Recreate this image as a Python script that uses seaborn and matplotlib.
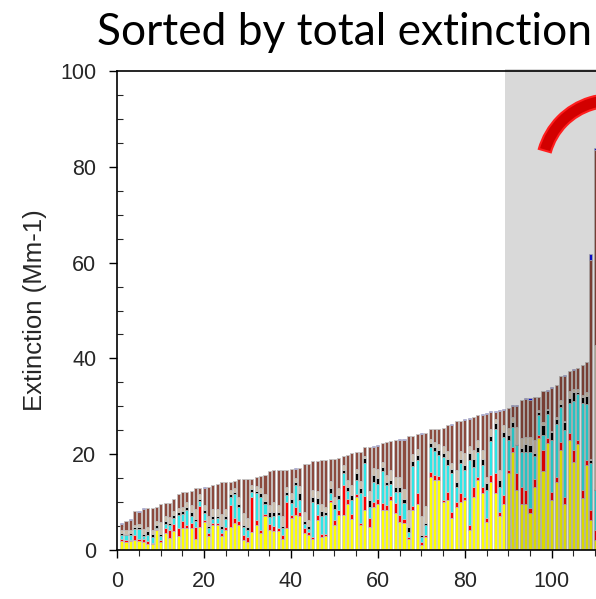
import numpy as np
import pandas as pd
import matplotlib
matplotlib.use("Agg")
import matplotlib.pyplot as plt
from matplotlib.patches import Rectangle, Wedge
from matplotlib.ticker import MultipleLocator
import seaborn as sns

# Sample index (samples sorted by total extinction)
sample = list(range(1, 111))

# Extinction contributions per species (Mm-1)
sulfate = [1.9, 1.7, 1.9, 2.0, 1.9, 1.7, 1.3, 1.2, 4.2, 1.7,
           3.5, 2.5, 4.0, 3.0, 4.6, 4.6, 4.5, 2.4, 4.7, 5.9,
           2.9, 5.2, 5.2, 2.9, 4.2, 4.9, 5.6, 5.2, 2.1, 1.7,
           3.8, 5.2, 3.5, 7.0, 4.2, 4.0, 4.0, 2.4, 4.5, 6.6,
           7.3, 7.0, 3.5, 3.1, 2.4, 6.3, 2.8, 2.9, 10.1, 5.2,
           7.3, 7.3, 9.7, 6.5, 11.1, 5.2, 8.4, 4.9, 9.0, 9.7,
           8.4, 8.4, 10.4, 7.7, 5.9, 5.6, 2.4, 8.4, 9.7, 1.0,
           2.8, 15.3, 14.6, 14.6, 10.1, 10.4, 6.6, 9.0, 10.1, 10.4,
           4.2, 11.1, 14.6, 11.8, 5.9, 14.3, 11.8, 7.0, 9.7, 16.0,
           20.5, 12.5, 9.7, 9.7, 7.7, 13.2, 23.3, 16.4, 22.3, 10.4,
           14.3, 20.9, 9.7, 23.0, 18.4, 22.1, 10.8, 17.7, 6.3, 2.1]
nitrate = [0.3, 0.35, 0.2, 1.1, 0.5, 0.5, 0.6, 0.3, 0.2, 0.4,
           1.0, 1.7, 1.5, 1.6, 1.5, 0.7, 1.2, 2.4, 4.5, 0.4,
           0.6, 0.5, 0.4, 0.6, 0.5, 4.5, 1.0, 0.8, 1.0, 1.0,
           7.3, 1.0, 0.6, 0.5, 1.2, 1.0, 0.6, 0.7, 5.5, 0.7,
           1.7, 1.0, 1.0, 0.7, 0.4, 1.0, 0.5, 0.5, 0.4, 1.0,
           1.0, 6.3, 1.0, 1.0, 0.5, 0.4, 2.8, 1.7, 1.0, 1.0,
           1.4, 1.0, 0.8, 2.1, 1.4, 0.8, 0.4, 0.7, 2.1, 0.7,
           0.4, 1.0, 1.0, 0.8, 0.4, 1.7, 1.4, 1.0, 1.7, 0.7,
           1.0, 2.1, 0.7, 1.4, 0.7, 1.4, 4.2, 1.0, 1.7, 0.7,
           1.0, 3.5, 3.5, 2.8, 1.0, 1.7, 0.7, 4.5, 1.0, 1.7,
           1.0, 1.7, 1.4, 1.4, 2.4, 0.8, 1.7, 1.0, 2.1, 2.1]
organic = [1.0, 1.0, 1.0, 1.2, 1.9, 0.7, 1.3, 1.3, 0.2, 0.9,
           1.0, 1.0, 1.2, 2.7, 1.4, 3.0, 1.5, 1.2, 1.0, 1.4,
           1.0, 0.8, 1.0, 0.9, 1.8, 1.7, 5.0, 3.0, 1.7, 1.5,
           1.0, 5.6, 7.0, 2.0, 1.5, 2.0, 2.7, 1.4, 1.5, 2.5,
           4.5, 2.4, 1.0, 0.5, 7.3, 2.4, 3.8, 4.0, 1.5, 2.4,
           2.3, 2.4, 1.7, 3.0, 3.0, 6.3, 7.0, 2.4, 4.2, 3.1,
           6.6, 4.2, 2.5, 2.4, 4.9, 3.5, 1.0, 8.4, 7.0, 1.0,
           2.0, 5.2, 5.0, 4.5, 9.0, 5.6, 8.0, 3.1, 6.3, 5.6,
           13.6, 4.2, 5.2, 4.5, 5.9, 7.0, 9.2, 5.2, 12.2, 6.3,
           4.2, 5.9, 7.3, 8.0, 11.8, 4.7, 4.2, 3.1, 5.1, 10.8,
           11.1, 7.3, 13.9, 6.3, 10.4, 9.7, 18.1, 11.8, 9.7, 8.4]
elemental_carbon = [0.3, 0.35, 0.5, 0.4, 0.4, 0.5, 0.7, 0.5, 0.6, 0.4,
                    0.5, 0.5, 0.6, 0.7, 0.6, 0.6, 0.7, 0.5, 0.4, 0.6,
                    0.6, 0.6, 0.6, 0.6, 0.6, 0.5, 0.6, 0.5, 0.5, 0.5,
                    0.6, 0.6, 0.7, 0.7, 1.0, 1.0, 0.7, 0.5, 0.7, 0.9,
                    0.7, 1.5, 0.5, 0.7, 1.0, 1.2, 1.0, 0.5, 1.0, 0.9,
                    0.8, 0.7, 0.8, 1.0, 1.4, 1.0, 1.0, 1.4, 1.4, 1.2,
                    1.0, 0.5, 1.0, 1.0, 1.0, 0.8, 1.0, 1.0, 1.0, 0.4,
                    0.5, 0.8, 1.0, 1.0, 0.7, 1.4, 1.0, 1.0, 1.0, 1.0,
                    1.4, 1.7, 1.0, 1.2, 1.4, 1.0, 1.3, 1.4, 1.0, 1.0,
                    1.0, 0.3, 0.7, 1.7, 1.4, 0.6, 0.7, 2.1, 0.8, 1.7,
                    1.0, 0.5, 1.7, 1.0, 1.7, 0.3, 1.4, 1.7, 0.7, 0.2]
soil = [0.6, 0.7, 0.6, 0.6, 0.8, 1.0, 0.8, 0.9, 0.8, 2.5,
        1.0, 1.1, 0.8, 0.8, 0.9, 1.2, 1.5, 2.0, 1.0, 1.0,
        2.0, 1.5, 1.3, 2.5, 1.5, 0.9, 0.8, 1.5, 2.5, 2.0,
        0.8, 1.0, 1.2, 1.5, 1.5, 2.0, 1.3, 2.0, 1.0, 1.3,
        0.8, 1.5, 2.0, 1.2, 1.5, 1.5, 1.5, 1.0, 1.5, 1.5,
        1.5, 1.0, 1.5, 2.0, 1.0, 1.5, 0.5, 2.0, 1.5, 2.0,
        1.0, 1.5, 2.0, 2.0, 2.0, 2.0, 3.5, 1.5, 1.2, 4.0,
        3.5, 0.8, 1.0, 1.2, 1.5, 1.5, 1.2, 2.5, 1.5, 2.5,
        1.5, 1.8, 1.5, 2.0, 1.4, 1.5, 0.8, 2.0, 1.5, 1.5,
        1.0, 3.5, 2.1, 1.4, 1.7, 2.8, 0.3, 0.7, 0.3, 0.3,
        0.3, 1.0, 0.3, 1.4, 0.7, 0.7, 0.3, 0.7, 0.3, 29.9]
coarse_mass = [1.4, 1.9, 2.1, 2.9, 2.4, 4.2, 4.0, 4.5, 2.9, 3.6,
               2.8, 3.1, 2.5, 2.8, 3.1, 2.1, 3.0, 4.4, 1.3, 3.7,
               6.0, 5.0, 5.2, 6.6, 5.5, 1.6, 1.5, 3.8, 7.0, 8.1,
               1.3, 1.9, 2.5, 4.0, 7.0, 6.7, 7.3, 9.6, 3.5, 5.0,
               2.0, 3.7, 9.9, 11.7, 6.0, 6.2, 9.2, 9.9, 4.5, 8.0,
               6.4, 2.0, 5.2, 6.7, 3.4, 6.0, 1.8, 9.1, 4.5, 4.8,
               3.9, 6.9, 6.1, 7.8, 7.8, 10.3, 15.4, 3.9, 3.2, 17.2,
               15.2, 2.1, 2.7, 3.2, 3.7, 5.5, 8.0, 10.3, 6.3, 7.0,
               5.7, 6.8, 5.1, 7.3, 13.1, 3.7, 1.6, 12.5, 3.2, 4.1,
               2.4, 4.4, 8.0, 8.0, 7.8, 9.0, 2.8, 6.3, 3.7, 9.0,
               6.7, 4.9, 9.4, 4.2, 4.0, 4.5, 6.3, 6.3, 41.5, 40.9]
sea_salt = [0.1, 0.1, 0.1, 0.0, 0.3, 0.1, 0.0, 0.0, 0.0, 0.0,
            0.0, 0.0, 0.0, 0.1, 0.0, 0.0, 0.0, 0.0, 0.0, 0.1,
            0.0, 0.0, 0.0, 0.0, 0.0, 0.0, 0.0, 0.0, 0.0, 0.0,
            0.0, 0.0, 0.0, 0.0, 0.0, 0.0, 0.1, 0.1, 0.0, 0.0,
            0.2, 0.1, 0.0, 0.0, 0.0, 0.0, 0.0, 0.0, 0.0, 0.0,
            0.0, 0.0, 0.0, 0.0, 0.1, 0.1, 0.1, 0.1, 0.1, 0.1,
            0.0, 0.0, 0.0, 0.0, 0.2, 0.2, 0.0, 0.0, 0.0, 0.1,
            0.1, 0.0, 0.0, 0.0, 0.0, 0.1, 0.2, 0.1, 0.1, 0.1,
            0.1, 0.1, 0.1, 0.1, 0.1, 0.1, 0.1, 0.1, 0.1, 0.1,
            0.1, 0.1, 0.1, 0.1, 0.3, 0.0, 0.0, 0.0, 0.2, 0.1,
            0.0, 0.1, 0.1, 0.1, 0.1, 0.0, 0.0, 0.1, 1.2, 0.3]

species = {
    "sea_salt": sea_salt,
    "coarse_mass": coarse_mass,
    "soil": soil,
    "elemental_carbon": elemental_carbon,
    "organic": organic,
    "nitrate": nitrate,
    "sulfate": sulfate,
}
colors = {
    "sea_salt": "#1010e8",
    "coarse_mass": "#8c4a3e",
    "soil": "#cbbca8",
    "elemental_carbon": "#000000",
    "organic": "#2ee6e6",
    "nitrate": "#ff0000",
    "sulfate": "#ffff00",
}

rows = []
for name, vals in species.items():
    for s, v in zip(sample, vals):
        rows.append({"sample": s, "species": name, "ext": v})
df = pd.DataFrame(rows)

sns.set_style("ticks")
plt.rcParams["font.family"] = ["Liberation Sans", "DejaVu Sans"]

W, H = 596, 599
fig = plt.figure(figsize=(W / 100, H / 100), dpi=100)
x0_px, y0_px, px_per_x, px_per_y = 117.3, 550.0, 4.344, 4.79
xmax = 112
ax = fig.add_axes([x0_px / W, (H - y0_px) / H, xmax * px_per_x / W, 100 * px_per_y / H])

sns.histplot(data=df, x="sample", weights="ext", hue="species",
             hue_order=list(species.keys()), palette=colors,
             multiple="stack", discrete=True, shrink=0.7, alpha=1,
             edgecolor="#c4c4c4", linewidth=0.5, legend=False, ax=ax)

ax.set_xlim(0, xmax)
ax.set_ylim(0, 100)
ax.set_xlabel("")
ax.set_ylabel("Extinction (Mm-1)", fontsize=18.5)
ax.yaxis.set_label_coords(-0.145, 0.5)

ax.xaxis.set_major_locator(MultipleLocator(20))
ax.xaxis.set_minor_locator(MultipleLocator(5))
ax.yaxis.set_major_locator(MultipleLocator(20))
ax.yaxis.set_minor_locator(MultipleLocator(5))
ax.tick_params(axis="both", which="major", direction="out", length=6,
               width=1, labelsize=15.5, pad=9, color="black")
ax.tick_params(axis="x", which="minor", direction="out", length=4, width=0.8)
ax.tick_params(axis="y", which="minor", direction="in", length=4, width=0.8)
for sp in ax.spines.values():
    sp.set_linewidth(1.2)
    sp.set_color("black")

# Highlighted high-extinction episodes
ax.add_patch(Rectangle((89.3, 0), 30, 100.5, facecolor="black", alpha=0.15,
                       edgecolor="none", zorder=5, clip_on=False))

# Curved callout arrow body
arc = Wedge((611.4 / 100, (H - 169.7) / 100), 0.755, 50, 164, width=0.125,
            transform=fig.dpi_scale_trans, facecolor="#d20000",
            edgecolor="#ff1e1e", linewidth=1.5, zorder=10, clip_on=False)
fig.add_artist(arc)

# Title, sized to span the header
title = fig.text(97 / W, (H - 45) / H, "Sorted by total extinction",
                 family=["Lato", "DejaVu Sans"], fontsize=30, ha="left",
                 va="baseline", color="black")
fig.canvas.draw()
bb = title.get_window_extent()
title.set_fontsize(30 * 493 / bb.width)

fig.savefig("out.png", dpi=100)
